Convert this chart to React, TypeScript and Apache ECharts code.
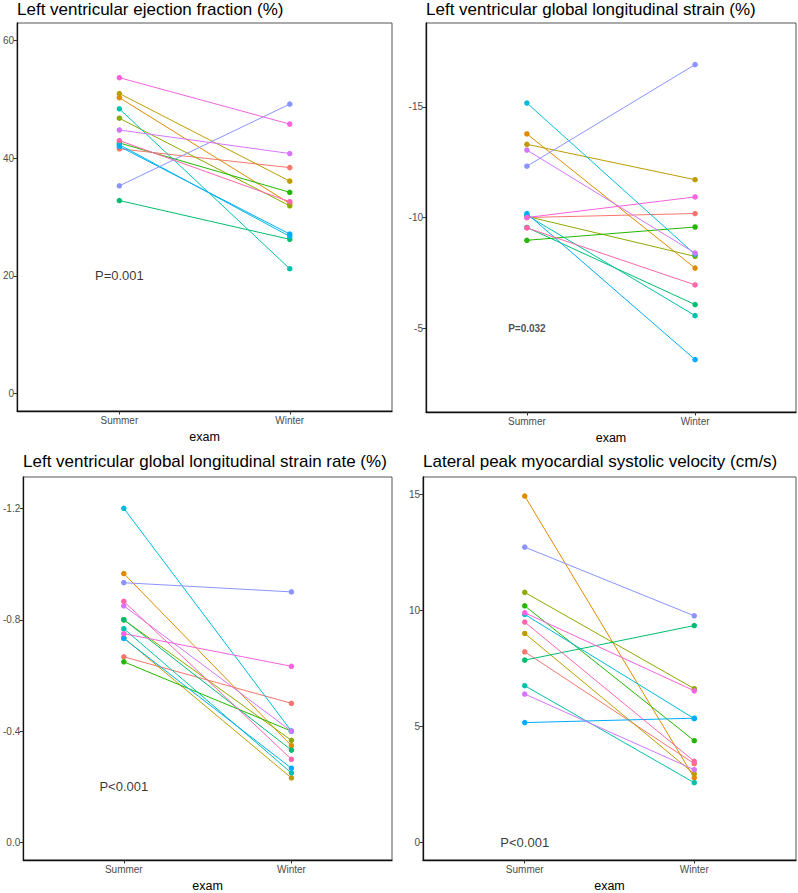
import React, { useEffect, useRef } from "react";
import * as echarts from "echarts";

// ---- data ----
const exams = ["Summer", "Winter"];

// subjects in ggplot hue order (13 subjects)
const subjectColors = [
  "#F8766D", "#E18A00", "#BE9C00", "#8CAB00", "#24B700", "#00BE70", "#00C1AB",
  "#00BBDA", "#00ACFC", "#8B93FF", "#D575FE", "#F962DD", "#FF65AC",
];

const efSummer = [41.6, 50.3, 51.0, 46.8, 42.6, 32.8, 48.4, 42.3, 42.0, 35.3, 44.8, 53.7, 43.0];
const efWinter = [38.4, 32.3, 36.1, 31.9, 34.2, 26.2, 21.2, 26.7, 27.1, 49.2, 40.8, 45.8, 32.6];

const glsSummer = [-10.0, -13.78, -13.31, -10.05, -8.97, -9.55, -10.1, -15.18, -10.18, -12.32, -13.05, -10.0, -9.53];
const glsWinter = [-10.18, -7.71, -11.71, -8.24, -9.57, -6.06, -5.56, -8.33, -3.57, -16.92, -8.39, -10.93, -6.95];

const glsrSummer = [-0.667, -0.966, -0.735, -0.80, -0.649, -0.80, -0.768, -1.2, -0.733, -0.933, -0.85, -0.75, -0.866];
const glsrWinter = [-0.5, -0.348, -0.232, -0.367, -0.40, -0.332, -0.25, -0.40, -0.267, -0.9, -0.40, -0.633, -0.299];

const velSummer = [8.22, 14.93, 9.01, 10.78, 10.2, 7.86, 6.76, 9.83, 5.17, 12.73, 6.4, 9.9, 9.5];
const velWinter = [3.4, 2.79, 2.96, 6.63, 4.39, 9.35, 2.58, 5.34, 5.36, 9.77, 3.14, 6.54, 3.5];

const titles = [
  "Left ventricular ejection fraction (%)",
  "Left ventricular global longitudinal strain (%)",
  "Left ventricular global longitudinal strain rate (%)",
  "Lateral peak myocardial systolic velocity (cm/s)",
];

const efTicks = [0, 20, 40, 60];
const glsTicks = [-15, -10, -5];
const glsrTicks = [-1.2, -0.8, -0.4, 0];
const velTicks = [0, 5, 10, 15];

const pLabels = ["P=0.001", "P=0.032", "P<0.001", "P<0.001"];
const pValuesY = [20, -5, -0.2, 0];

const FONT = "'Liberation Sans', Arial, Helvetica, sans-serif";

export default function App() {
  const ref = useRef<HTMLDivElement>(null);

  useEffect(() => {
    document.body.style.margin = "0";
    const chart = echarts.init(ref.current!, undefined, { renderer: "svg" });

    const panels = [
      { s: efSummer, w: efWinter, ticks: efTicks, min: -3, max: 63, inverse: false, fmt: (v: number) => String(v) },
      { s: glsSummer, w: glsWinter, ticks: glsTicks, min: -18.8, max: -1.2, inverse: true, fmt: (v: number) => String(v) },
      { s: glsrSummer, w: glsrWinter, ticks: glsrTicks, min: -1.3125, max: 0.0625, inverse: true, fmt: (v: number) => v.toFixed(1) },
      { s: velSummer, w: velWinter, ticks: velTicks, min: -0.75, max: 15.75, inverse: false, fmt: (v: number) => String(v) },
    ];

    const grids = [
      { left: 17, top: 23, width: 375, height: 388 },
      { left: 426, top: 23, width: 370, height: 389 },
      { left: 23, top: 477, width: 369, height: 388 },
      { left: 423, top: 477, width: 373, height: 388 },
    ];

    const titlePos = [
      { x: 17, y: 9 },
      { x: 426, y: 9 },
      { x: 23, y: 461 },
      { x: 423, y: 461 },
    ];

    const series: any[] = [];
    panels.forEach((p, pi) => {
      p.s.forEach((sv, i) => {
        series.push({
          type: "line",
          xAxisIndex: pi,
          yAxisIndex: pi,
          data: [
            [1, sv],
            [2, p.w[i]],
          ],
          symbol: "circle",
          symbolSize: 5.5,
          showSymbol: true,
          itemStyle: { color: subjectColors[i] },
          lineStyle: { color: subjectColors[i], width: 1 },
          emphasis: { disabled: true },
          z: 2,
        });
      });
      const bold = pi === 1;
      series.push({
        type: "scatter",
        xAxisIndex: pi,
        yAxisIndex: pi,
        data: [[1, pValuesY[pi]]],
        symbolSize: 1,
        itemStyle: { color: "transparent" },
        label: {
          show: true,
          position: "inside",
          formatter: pLabels[pi],
          color: bold ? "#222" : "#000",
          fontSize: bold ? 10 : 13,
          fontWeight: bold ? "bold" : "normal",
          fontFamily: FONT,
        },
        silent: true,
        z: 3,
      });
    });

    chart.setOption({
      animation: false,
      backgroundColor: "#fff",
      grid: grids.map((g) => ({
        ...g,
        show: true,
        borderColor: "#555",
        borderWidth: 1,
        backgroundColor: "transparent",
        containLabel: false,
      })),
      xAxis: grids.map((_, gi) => ({
        type: "value",
        gridIndex: gi,
        min: 0.4,
        max: 2.6,
        name: "exam",
        nameLocation: "middle",
        nameGap: 19,
        nameTextStyle: { fontSize: 12.5, color: "#000", fontFamily: FONT },
        axisLine: { show: true, onZero: false, lineStyle: { color: "#111", width: 1.3 } },
        axisTick: { show: true, length: 3.5, customValues: [1, 2], lineStyle: { color: "#333" } },
        axisLabel: {
          customValues: [1, 2],
          formatter: (v: number) => exams[Math.round(v) - 1] ?? "",
          fontSize: 10,
          color: "#4D4D4D",
          margin: 4,
          fontFamily: FONT,
        },
        splitLine: { show: false },
      })),
      yAxis: panels.map((p, gi) => ({
        type: "value",
        gridIndex: gi,
        min: p.min,
        max: p.max,
        inverse: p.inverse,
        axisLine: { show: true, onZero: false, lineStyle: { color: "#111", width: 1.3 } },
        axisTick: { show: true, length: 3.5, customValues: p.ticks, lineStyle: { color: "#333" } },
        axisLabel: {
          customValues: p.ticks,
          formatter: p.fmt,
          fontSize: 10,
          color: "#4D4D4D",
          margin: 3,
          fontFamily: FONT,
        },
        splitLine: { show: false },
      })),
      graphic: titles.map((t, i) => ({
        type: "text",
        x: titlePos[i].x,
        y: titlePos[i].y,
        style: {
          text: t,
          fill: "#000",
          font: `17px ${FONT}`,
          verticalAlign: "middle",
          align: "left",
        },
      })),
      series,
    });

    return () => chart.dispose();
  }, []);

  return (
    <div
      ref={ref}
      style={{ position: "absolute", left: 0, top: 0, width: 798, height: 893 }}
    />
  );
}
